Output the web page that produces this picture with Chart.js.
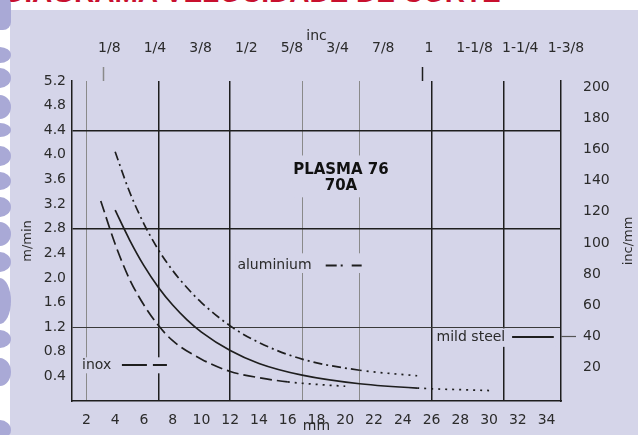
<!DOCTYPE html>
<html>
<head>
<meta charset="utf-8">
<script src="https://cdn.jsdelivr.net/npm/chart.js@4.4.1/dist/chart.umd.min.js"></script>
<style>
  body { margin: 0; width: 638px; height: 435px; overflow: hidden; position: relative; background: #fff; }
  #titulo { position: absolute; left: 4px; top: -21px; font: bold 28px "Liberation Sans", sans-serif; line-height: 28px; color: #c8102e; white-space: nowrap; }
  #painel { position: absolute; left: 10px; top: 10px; right: 0; bottom: 0; background: #d5d5e9; }
  .bola { position: absolute; left: -12px; width: 23px; background: #a9a9d6; border-radius: 50%; }
  #grafico { position: absolute; left: 0; top: 0; width: 638px; height: 435px; }
</style>
</head>
<body>
<div id="titulo">DIAGRAMA VELOCIDADE DE CORTE</div>
<div id="painel"></div>
<div class="bola" style="top:-4px;height:34px;border-radius:8px"></div>
<div class="bola" style="top:47px;height:16px"></div>
<div class="bola" style="top:68px;height:20px"></div>
<div class="bola" style="top:95px;height:24px"></div>
<div class="bola" style="top:123px;height:14px"></div>
<div class="bola" style="top:146px;height:20px"></div>
<div class="bola" style="top:172px;height:18px"></div>
<div class="bola" style="top:197px;height:20px"></div>
<div class="bola" style="top:222px;height:24px"></div>
<div class="bola" style="top:252px;height:20px"></div>
<div class="bola" style="top:278px;height:46px"></div>
<div class="bola" style="top:330px;height:18px"></div>
<div class="bola" style="top:358px;height:28px"></div>
<div class="bola" style="top:420px;height:20px"></div>
<div id="grafico"><canvas id="corte"></canvas></div>
<script>
// espessura em mm (eixo de baixo) e polegadas (eixo de cima)
const mmTicks = [2, 4, 6, 8, 10, 12, 14, 16, 18, 20, 22, 24, 26, 28, 30, 32, 34];
const mmGrid = [2, 7, 12, 17, 21, 26, 31];
const mmGridDark = [false, true, true, false, false, true, true];
const inchTicks = [1/8, 2/8, 3/8, 4/8, 5/8, 6/8, 7/8, 1, 9/8, 10/8, 11/8];
const inchLabels = ['1/8', '1/4', '3/8', '1/2', '5/8', '3/4', '7/8', '1', '1-1/8', '1-1/4', '1-3/8'];
const inchMarked = ['1/8', '1'];
// velocidade m/min (esquerda) e inc/mm (direita)
const speedTicks = [0.4, 0.8, 1.2, 1.6, 2.0, 2.4, 2.8, 3.2, 3.6, 4.0, 4.4, 4.8, 5.2];
const speedLines = [4.4, 2.8, 1.2];
const rateTicks = [20, 40, 60, 80, 100, 120, 140, 160, 180, 200];
const rateMarked = [40];

// curvas
const inoxMm = [3, 4, 5, 6, 7, 8, 10, 12, 14.5, 16, 18, 20];
const inoxSpeed = [3.25, 2.55, 1.98, 1.56, 1.23, 0.98, 0.68, 0.48, 0.36, 0.31, 0.27, 0.24];
const inoxDottedFrom = 16;
const mildMm = [4, 5, 6, 7, 8, 9, 10, 12, 14, 17, 21, 25, 30];
const mildSpeed = [3.1, 2.62, 2.2, 1.85, 1.56, 1.32, 1.12, 0.82, 0.61, 0.42, 0.28, 0.21, 0.17];
const mildDottedFrom = 25;
const aluMm = [4, 5, 6, 7, 8, 9, 10, 12, 14, 17, 21, 25];
const aluSpeed = [4.05, 3.4, 2.88, 2.46, 2.12, 1.84, 1.6, 1.22, 0.95, 0.68, 0.5, 0.41];
const aluDottedFrom = 21;

const fundo = '#d5d5e9';
const escuro = '#1e1e1e';
const cinza = '#8a8a8a';
const pontilhado = [2, 5];

Chart.defaults.font.family = "'DejaVu Sans', sans-serif";
Chart.defaults.font.size = 14;
Chart.defaults.color = '#2b2b2b';

function pontos(xs, ys) {
    return xs.map((x, i) => ({ x: x, y: ys[i] }));
}

function tracado(xs, base, desde) {
    return ctx => xs[ctx.p0DataIndex] >= desde ? pontilhado : base;
}

function serie(nome, xs, ys, base, desde) {
    return {
        label: nome,
        data: pontos(xs, ys),
        borderColor: escuro,
        borderWidth: 1.7,
        borderDash: base,
        pointRadius: 0,
        cubicInterpolationMode: 'monotone',
        segment: { borderDash: tracado(xs, base, desde) }
    };
}

function perto(v, lista) {
    return lista.some(l => Math.abs(l - v) < 1e-6);
}

// caixas, textos e amostras de linha dentro do grafico
const rotulos = {
    id: 'rotulos',
    beforeDatasetsDraw(chart) {
        const c = chart.ctx, sx = chart.scales.x, sy = chart.scales.y;
        const caixa = (x0, x1, y0, y1) => {
            const a = sx.getPixelForValue(x0), b = sx.getPixelForValue(x1);
            const t = sy.getPixelForValue(y0), u = sy.getPixelForValue(y1);
            c.fillRect(a, t, b - a, u - t);
        };
        c.save();
        c.fillStyle = fundo;
        caixa(16.5, 23.1, 3.99, 3.31);
        caixa(12.4, 21.4, 2.4, 2.08);
        caixa(1.4, 7.8, 0.71, 0.45);
        caixa(26.2, 34.6, 1.18, 0.88);
        c.restore();
    },
    afterDatasetsDraw(chart) {
        const c = chart.ctx, sx = chart.scales.x, sy = chart.scales.y;
        const px = v => sx.getPixelForValue(v), py = v => sy.getPixelForValue(v);
        c.save();
        c.fillStyle = '#111';
        c.textBaseline = 'middle';
        c.textAlign = 'center';
        c.font = "bold 15px 'DejaVu Sans'";
        c.fillText('PLASMA 76', px(19.7), py(3.76));
        c.fillText('70A', px(19.7), py(3.5));

        c.fillStyle = '#2b2b2b';
        c.textAlign = 'left';
        c.font = "14px 'DejaVu Sans'";
        c.fillText('aluminium', px(12.5), py(2.2));
        c.fillText('inox', px(1.7), py(0.585));
        c.fillText('mild steel', px(26.35), py(1.04));

        const amostra = (x0, x1, y, dash) => {
            c.beginPath();
            c.setLineDash(dash);
            c.moveTo(px(x0), py(y));
            c.lineTo(px(x1), py(y));
            c.stroke();
        };
        c.strokeStyle = escuro;
        c.lineWidth = 2;
        amostra(18.64, 21.14, 2.2, [11, 4, 2, 9, 10, 100]);
        amostra(4.47, 7.6, 0.585, [25, 6, 14, 100]);
        amostra(31.6, 34.5, 1.04, []);
        c.setLineDash([]);

        // titulo do eixo da direita
        c.translate(629, (chart.chartArea.top + chart.chartArea.bottom) / 2);
        c.rotate(-Math.PI / 2);
        c.textAlign = 'center';
        c.font = "13px 'DejaVu Sans'";
        c.fillText('inc/mm', 0, 0);
        c.restore();
    }
};

new Chart(document.getElementById('corte'), {
    type: 'line',
    data: {
        datasets: [
            serie('inox', inoxMm, inoxSpeed, [12, 5], inoxDottedFrom),
            serie('mild steel', mildMm, mildSpeed, [], mildDottedFrom),
            serie('aluminium', aluMm, aluSpeed, [9, 4, 2, 4], aluDottedFrom)
        ]
    },
    plugins: [rotulos],
    options: {
        responsive: true,
        maintainAspectRatio: false,
        animation: false,
        layout: { padding: 0 },
        plugins: { legend: { display: false }, tooltip: { enabled: false } },
        scales: {
            x: {
                type: 'linear', position: 'bottom', min: 1, max: 35,
                afterBuildTicks: s => { s.ticks = mmTicks.map(v => ({ value: v })); },
                afterFit: s => { s.height = 34; },
                grid: { display: false },
                border: { color: escuro, width: 1.5 },
                ticks: { autoSkip: false, maxRotation: 0, padding: 3 },
                title: { display: true, text: 'mm', padding: { top: 0, bottom: 0 } }
            },
            xg: {
                type: 'linear', position: 'bottom', min: 1, max: 35,
                afterBuildTicks: s => { s.ticks = mmGrid.map(v => ({ value: v })); },
                afterFit: s => { s.height = 0; },
                grid: {
                    drawTicks: false,
                    color: ctx => mmGridDark[ctx.index] ? escuro : cinza,
                    lineWidth: ctx => mmGridDark[ctx.index] ? 1.5 : 1
                },
                border: { display: false },
                ticks: { display: false }
            },
            x2: {
                type: 'linear', position: 'top', min: 1 / 25.4, max: 35 / 25.4,
                afterBuildTicks: s => { s.ticks = inchTicks.map(v => ({ value: v })); },
                afterFit: s => { s.height = 81; },
                grid: {
                    drawOnChartArea: false, drawTicks: true, tickLength: 14,
                    tickWidth: 1.5,
                    tickColor: ctx => inchMarked.includes(inchLabels[ctx.index]) ? (ctx.index === 0 ? cinza : escuro) : 'transparent'
                },
                border: { display: false },
                ticks: { autoSkip: false, maxRotation: 0, padding: 10, labelOffset: 6, callback: (v, i) => inchLabels[i] },
                title: { display: true, text: 'inc', padding: { top: 28, bottom: 0 } }
            },
            y: {
                type: 'linear', position: 'left', min: 0, max: 5.2,
                afterBuildTicks: s => { s.ticks = speedTicks.map(v => ({ value: v })); },
                afterFit: s => { s.width = 72; },
                grid: {
                    drawTicks: false,
                    color: ctx => perto(ctx.tick.value, speedLines) ? (ctx.tick.value < 2 ? '#3a3a3a' : escuro) : 'transparent',
                    lineWidth: ctx => ctx.tick.value < 2 ? 1 : 1.4
                },
                border: { color: escuro, width: 1.5 },
                ticks: { padding: 6, callback: v => v.toFixed(1) },
                title: { display: true, text: 'm/min', font: { size: 13 }, padding: { top: 20, bottom: 0 } }
            },
            y2: {
                type: 'linear', position: 'right', min: -1.5, max: 204,
                afterBuildTicks: s => { s.ticks = rateTicks.map(v => ({ value: v })); },
                afterFit: s => { s.width = 77; },
                grid: {
                    drawOnChartArea: false, drawTicks: true, tickLength: 15, tickWidth: 1.2,
                    tickColor: ctx => rateMarked.includes(ctx.tick.value) ? '#555' : 'transparent'
                },
                border: { color: escuro, width: 1.5 },
                ticks: { padding: 7 }
            }
        }
    }
});
</script>
</body>
</html>
